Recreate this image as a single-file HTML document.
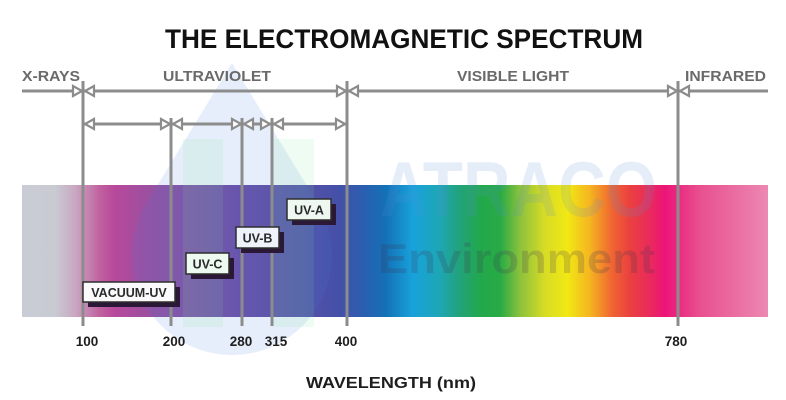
<!DOCTYPE html>
<html><head><meta charset="utf-8"><style>
html,body{margin:0;padding:0;background:#fff;}
svg{display:block;}
text{font-family:"Liberation Sans",sans-serif;font-weight:bold;}
</style></head><body>
<svg width="786" height="400" viewBox="0 0 786 400" xmlns="http://www.w3.org/2000/svg">
<defs>
<linearGradient id="spec" gradientUnits="userSpaceOnUse" x1="22" y1="0" x2="768" y2="0">
<stop offset="0" stop-color="#c9ccd4"/>
<stop offset="0.044" stop-color="#c9cbd3"/>
<stop offset="0.071" stop-color="#c9a8c2"/>
<stop offset="0.105" stop-color="#c0609f"/>
<stop offset="0.125" stop-color="#b8489c"/>
<stop offset="0.158" stop-color="#a24e9f"/>
<stop offset="0.2" stop-color="#8c54a2"/>
<stop offset="0.239" stop-color="#8052a4"/>
<stop offset="0.295" stop-color="#6c50a6"/>
<stop offset="0.359" stop-color="#5c52a5"/>
<stop offset="0.426" stop-color="#4450a8"/>
<stop offset="0.46" stop-color="#2860b0"/>
<stop offset="0.487" stop-color="#1470b6"/>
<stop offset="0.524" stop-color="#18a2db"/>
<stop offset="0.56" stop-color="#1ea6b5"/>
<stop offset="0.587" stop-color="#22a27a"/>
<stop offset="0.614" stop-color="#22a84c"/>
<stop offset="0.641" stop-color="#28aa45"/>
<stop offset="0.668" stop-color="#8cc23c"/>
<stop offset="0.701" stop-color="#d8dc25"/>
<stop offset="0.731" stop-color="#f1e814"/>
<stop offset="0.761" stop-color="#f5b520"/>
<stop offset="0.791" stop-color="#ef6532"/>
<stop offset="0.815" stop-color="#ea4040"/>
<stop offset="0.842" stop-color="#e92a5c"/>
<stop offset="0.862" stop-color="#ec1478"/>
<stop offset="0.879" stop-color="#ea2a80"/>
<stop offset="0.909" stop-color="#e8508f"/>
<stop offset="1" stop-color="#ec88b2"/>
</linearGradient>
</defs>

<rect x="22" y="185" width="746" height="132" fill="url(#spec)"/>

<path d="M232,63 L317.3,202.9 A100,100 0 1,1 146.7,202.9 Z" fill="#3a7be0" opacity="0.13"/>
<rect x="183" y="139" width="40" height="188" fill="#7ee89a" opacity="0.12"/>
<rect x="273" y="139" width="41" height="188" fill="#7ee89a" opacity="0.12"/>
<text x="380" y="216" font-size="78" fill="#5a8fd8" opacity="0.15" textLength="277" lengthAdjust="spacingAndGlyphs">ATRACO</text>
<text x="378" y="273" font-size="42" fill="#3c3250" opacity="0.2" textLength="277" lengthAdjust="spacingAndGlyphs">Environment</text>

<text x="404" y="48" font-size="27" fill="#111" text-anchor="middle" textLength="478" lengthAdjust="spacingAndGlyphs">THE ELECTROMAGNETIC SPECTRUM</text>

<g fill="#6a6a6a" font-size="15">
<text x="22" y="81" textLength="58" lengthAdjust="spacingAndGlyphs">X-RAYS</text>
<text x="163" y="81" textLength="108" lengthAdjust="spacingAndGlyphs">ULTRAVIOLET</text>
<text x="457" y="81" textLength="112" lengthAdjust="spacingAndGlyphs">VISIBLE LIGHT</text>
<text x="685" y="81" textLength="81" lengthAdjust="spacingAndGlyphs">INFRARED</text>
</g>

<g stroke="#8c8c8c" stroke-width="3" fill="none">
<line x1="22" y1="91" x2="768" y2="91"/>
<line x1="83" y1="124" x2="347" y2="124"/>
<line x1="83" y1="81" x2="83" y2="326"/>
<line x1="347" y1="81" x2="347" y2="326"/>
<line x1="678" y1="81" x2="678" y2="326"/>
<line x1="171" y1="118" x2="171" y2="326"/>
<line x1="242" y1="118" x2="242" y2="326"/>
<line x1="272" y1="118" x2="272" y2="326"/>
</g>

<g stroke="#8c8c8c" stroke-width="2.2" fill="#fff" stroke-linejoin="miter">
<path d="M73,86 L82,91 L73,96 Z"/>
<path d="M94,86 L85,91 L94,96 Z"/>
<path d="M337,86 L346,91 L337,96 Z"/>
<path d="M358,86 L349,91 L358,96 Z"/>
<path d="M668,86 L677,91 L668,96 Z"/>
<path d="M689,86 L680,91 L689,96 Z"/>
<path d="M94,119 L85,124 L94,129 Z"/>
<path d="M161,119 L170,124 L161,129 Z"/>
<path d="M182,119 L173,124 L182,129 Z"/>
<path d="M232,119 L241,124 L232,129 Z"/>
<path d="M253,119 L244,124 L253,129 Z"/>
<path d="M261,119 L270,124 L261,129 Z"/>
<path d="M283,119 L274,124 L283,129 Z"/>
<path d="M336,119 L345,124 L336,129 Z"/>
</g>

<g>
<rect x="88" y="287" width="92" height="20" fill="#2a1836"/>
<rect x="83" y="282" width="92" height="20" fill="#fafafc" stroke="#2e2e2e" stroke-width="1.5"/>
<text x="129" y="297" font-size="12.5" fill="#2a2a2a" text-anchor="middle">VACUUM-UV</text>

<rect x="191" y="258" width="43" height="21" fill="#2a1836"/>
<rect x="186" y="253" width="43" height="21" fill="#ecfaef" stroke="#2e2e2e" stroke-width="1.5"/>
<text x="207.5" y="268.5" font-size="12.5" fill="#2a2a2a" text-anchor="middle">UV-C</text>

<rect x="241" y="232" width="43" height="21" fill="#2a1836"/>
<rect x="236" y="227" width="43" height="21" fill="#eef2fa" stroke="#2e2e2e" stroke-width="1.5"/>
<text x="257.5" y="242.5" font-size="12.5" fill="#2a2a2a" text-anchor="middle">UV-B</text>

<rect x="292" y="204" width="44" height="21" fill="#2a1836"/>
<rect x="287" y="199" width="44" height="21" fill="#eef8f0" stroke="#2e2e2e" stroke-width="1.5"/>
<text x="309" y="214.5" font-size="12.5" fill="#2a2a2a" text-anchor="middle">UV-A</text>
</g>

<g font-size="13.5" fill="#1e1e1e" text-anchor="middle">
<text x="87" y="346">100</text>
<text x="174" y="346">200</text>
<text x="241" y="346">280</text>
<text x="276" y="346">315</text>
<text x="346" y="346">400</text>
<text x="676" y="346">780</text>
</g>

<text x="391" y="388" font-size="16" fill="#1e1e1e" text-anchor="middle" textLength="170" lengthAdjust="spacingAndGlyphs">WAVELENGTH (nm)</text>
</svg>
</body></html>
